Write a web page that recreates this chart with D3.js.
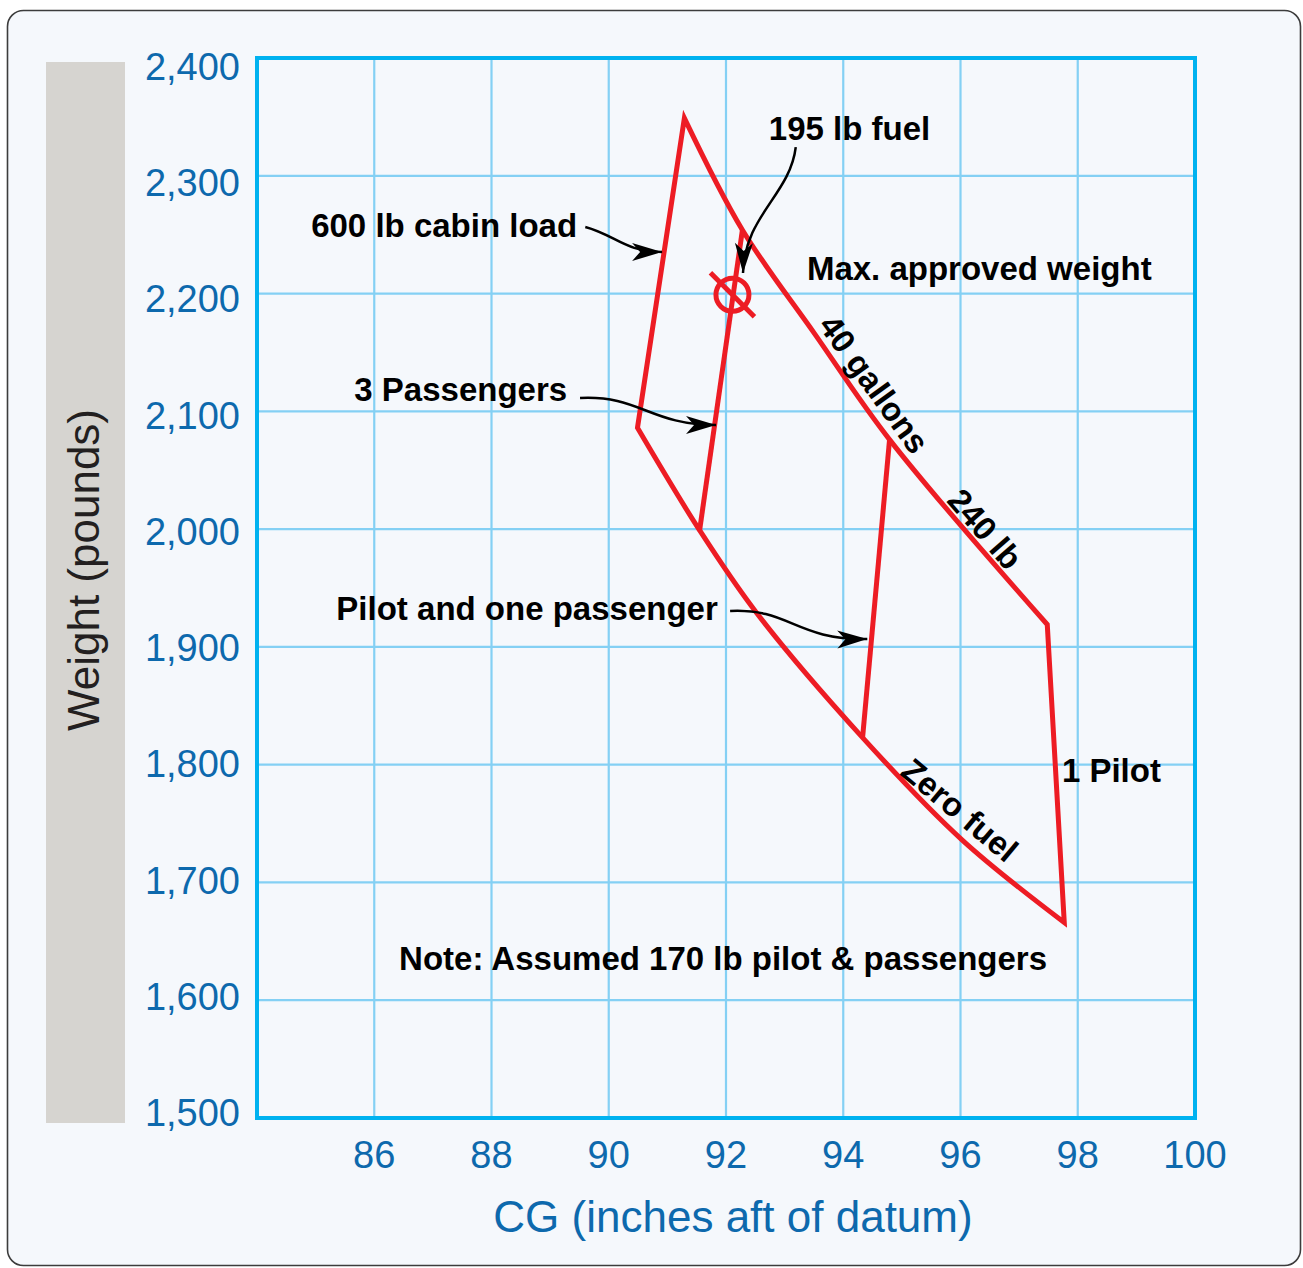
<!DOCTYPE html>
<html>
<head>
<meta charset="utf-8">
<script src="https://cdn.jsdelivr.net/npm/d3@7"></script>
<style>
body { margin: 0; background: #ffffff; }
svg { display: block; font-family: "Liberation Sans", Arial, sans-serif; }
.tick-label { fill: #0d69ad; font-size: 38px; }
.axis-title { fill: #0d69ad; font-size: 44px; }
.note { fill: #000; font-size: 33px; font-weight: bold; }
.envelope { fill: none; stroke: #ed1c24; stroke-width: 5; stroke-linejoin: miter; }
.arrow { fill: none; stroke: #000; stroke-width: 2.5; }
</style>
</head>
<body>
<script>

// axis ticks
var cgTicks = [86, 88, 90, 92, 94, 96, 98, 100];
var weightTicks = [1500, 1600, 1700, 1800, 1900, 2000, 2100, 2200, 2300, 2400];

// max approved weight / 40 gallons (240 lb) edge
var maxCG = [91.29, 92.28, 93.51, 94.79, 97.48];
var maxLb = [2349, 2254, 2166, 2076, 1919];
// 1 pilot edge
var pilotCG = [97.48, 97.77];
var pilotLb = [1919, 1666];
// zero fuel edge
var zeroCG = [97.77, 96.03, 94.33, 92.52, 91.55, 90.49];
var zeroLb = [1666, 1736, 1823, 1929, 1999, 2086];
// inner load lines
var threePaxCG = [91.55, 92.28];
var threePaxLb = [1999, 2254];
var pilotPaxCG = [94.33, 94.79];
var pilotPaxLb = [1823, 2076];
// loaded condition marker
var targetCG = 92.11;
var targetLb = 2199;

var w = 1303, h = 1268;
var plotL = 257, plotR = 1195, plotT = 58, plotB = 1118;

var svg = d3.select("body").append("svg")
	.attr("width", w)
	.attr("height", h);

var x = d3.scaleLinear().domain([84, 100]).range([plotL, plotR]);
var y = d3.scaleLinear().domain([1500, 2400]).range([plotB, plotT]);
// tick labels are spaced a little tighter than the grid
var yLabel = d3.scaleLinear().domain([1500, 2400]).range([1126, 80]);

function zip(a, b) {
	return a.map(function(d, i) { return [d, b[i]]; });
}

// page background
svg.append("rect")
	.attr("x", 7.5).attr("y", 10.5)
	.attr("width", 1293).attr("height", 1255)
	.attr("rx", 16)
	.style("fill", "#f5f8fc")
	.style("stroke", "#3c3c3c")
	.style("stroke-width", 1.6);

svg.append("rect")
	.attr("x", 46).attr("y", 62)
	.attr("width", 79).attr("height", 1061)
	.style("fill", "#d6d4d0");

// grid
svg.append("g").selectAll("line").data(cgTicks).enter().append("line")
	.attr("x1", x).attr("x2", x)
	.attr("y1", plotT).attr("y2", plotB)
	.style("stroke", "#84d0f4").style("stroke-width", 2.2);

svg.append("g").selectAll("line").data(weightTicks).enter().append("line")
	.attr("x1", plotL).attr("x2", plotR)
	.attr("y1", y).attr("y2", y)
	.style("stroke", "#84d0f4").style("stroke-width", 2.2);

svg.append("rect")
	.attr("x", plotL).attr("y", plotT)
	.attr("width", plotR - plotL).attr("height", plotB - plotT)
	.style("fill", "none")
	.style("stroke", "#00b2f0")
	.style("stroke-width", 4);

// tick labels
var fmt = d3.format(",");
svg.append("g").selectAll("text").data(weightTicks).enter().append("text")
	.attr("class", "tick-label")
	.attr("x", 240)
	.attr("y", yLabel)
	.attr("text-anchor", "end")
	.text(fmt);

svg.append("g").selectAll("text").data(cgTicks).enter().append("text")
	.attr("class", "tick-label")
	.attr("x", x)
	.attr("y", 1168)
	.attr("text-anchor", "middle")
	.text(function(d) { return d; });

svg.append("text")
	.attr("class", "axis-title")
	.attr("x", 733).attr("y", 1232)
	.attr("text-anchor", "middle")
	.text("CG (inches aft of datum)");

svg.append("text")
	.attr("class", "axis-title")
	.attr("transform", "translate(99,570) rotate(-90)")
	.attr("text-anchor", "middle")
	.style("fill", "#231f20")
	.text("Weight (pounds)");

// envelope
var curved = d3.line()
	.x(function(d) { return x(d[0]); })
	.y(function(d) { return y(d[1]); })
	.curve(d3.curveCatmullRom.alpha(0.5));
var straight = d3.line()
	.x(function(d) { return x(d[0]); })
	.y(function(d) { return y(d[1]); });

var outline = curved(zip(maxCG, maxLb))
	+ straight(zip(pilotCG, pilotLb)).replace(/^M/, "L")
	+ curved(zip(zeroCG, zeroLb)).replace(/^M/, "L")
	+ "Z";

svg.append("path").attr("class", "envelope").attr("d", outline);
svg.append("path").attr("class", "envelope").attr("d", straight(zip(threePaxCG, threePaxLb)));
svg.append("path").attr("class", "envelope").attr("d", straight(zip(pilotPaxCG, pilotPaxLb)));

// loaded point
svg.append("circle")
	.attr("cx", x(targetCG)).attr("cy", y(targetLb))
	.attr("r", 16.5)
	.attr("class", "envelope");
svg.append("line")
	.attr("x1", x(targetCG) - 22).attr("y1", y(targetLb) - 22)
	.attr("x2", x(targetCG) + 22).attr("y2", y(targetLb) + 22)
	.attr("class", "envelope");

// arrows
svg.append("defs").append("marker")
	.attr("id", "head")
	.attr("viewBox", "-32 -12 34 24")
	.attr("refX", 0).attr("refY", 0)
	.attr("markerWidth", 34).attr("markerHeight", 24)
	.attr("markerUnits", "userSpaceOnUse")
	.attr("orient", "auto")
	.append("path")
	.attr("d", "M0,0 L-30,-9 L-22,0 L-30,9 Z")
	.style("fill", "#000");

var arrows = [
	[[89.60, 2256.5], [90.11, 2249.7], [90.28, 2235.3], [90.91, 2235.3]],
	[[89.51, 2111.3], [90.53, 2113.9], [90.70, 2088.4], [91.83, 2088.4]],
	[[92.07, 1930.5], [93.09, 1933.0], [93.18, 1905.8], [94.41, 1906.7]],
	[[93.19, 2324.4], [93.09, 2283.7], [92.32, 2266.7], [92.29, 2217.5]]
];

svg.append("g").selectAll("path").data(arrows).enter().append("path")
	.attr("class", "arrow")
	.attr("marker-end", "url(#head)")
	.attr("d", function(p) {
		var path = d3.path();
		path.moveTo(x(p[0][0]), y(p[0][1]));
		path.bezierCurveTo(x(p[1][0]), y(p[1][1]), x(p[2][0]), y(p[2][1]), x(p[3][0]), y(p[3][1]));
		return path.toString();
	});

// labels
var labels = [
	{ t: "195 lb fuel", cg: 92.73, lb: 2330.4, a: "start" },
	{ t: "600 lb cabin load", cg: 89.46, lb: 2248.0, a: "end" },
	{ t: "Max. approved weight", cg: 93.38, lb: 2211.5, a: "start" },
	{ t: "3 Passengers", cg: 89.29, lb: 2108.8, a: "end" },
	{ t: "Pilot and one passenger", cg: 91.86, lb: 1922.8, a: "end" },
	{ t: "1 Pilot", cg: 97.73, lb: 1785.3, a: "start" },
	{ t: "Note: Assumed 170 lb pilot & passengers", cg: 91.95, lb: 1625.7, a: "middle" }
];

svg.append("g").selectAll("text").data(labels).enter().append("text")
	.attr("class", "note")
	.attr("x", function(d) { return x(d.cg); })
	.attr("y", function(d) { return y(d.lb); })
	.attr("text-anchor", function(d) { return d.a; })
	.text(function(d) { return d.t; });

var slanted = [
	{ t: "40 gallons", cg: 94.53, lb: 2123.2, r: 54 },
	{ t: "240 lb", cg: 96.42, lb: 2000.1, r: 49 },
	{ t: "Zero fuel", cg: 95.99, lb: 1761.5, r: 40 }
];

svg.append("g").selectAll("text").data(slanted).enter().append("text")
	.attr("class", "note")
	.attr("transform", function(d) {
		return "translate(" + x(d.cg) + "," + y(d.lb) + ") rotate(" + d.r + ")";
	})
	.attr("text-anchor", "middle")
	.attr("dy", "0.35em")
	.text(function(d) { return d.t; });

</script>
</body>
</html>
